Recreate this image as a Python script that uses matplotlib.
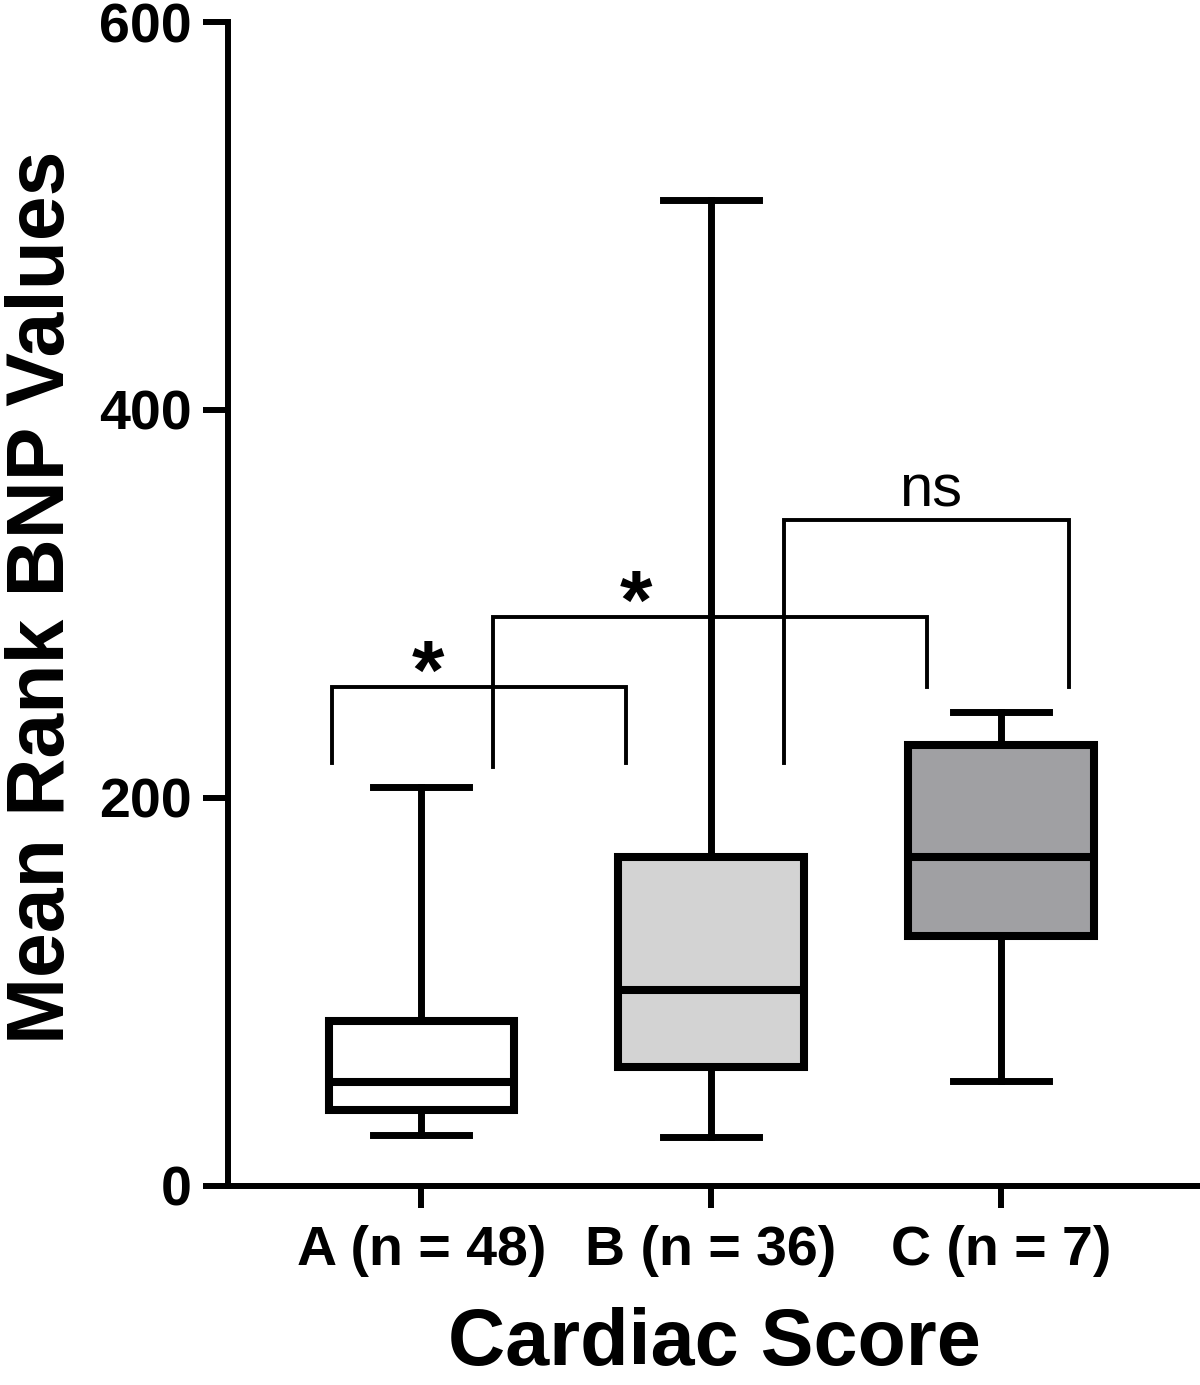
import matplotlib
matplotlib.use('Agg')
import matplotlib.pyplot as plt

plt.rcParams['font.family'] = ['Liberation Sans', 'DejaVu Sans']

# box statistics
groups = ['A (n = 48)', 'B (n = 36)', 'C (n = 7)']
whislo = [26, 25, 54]
q1 = [39, 61, 129]
med = [53.5, 101, 169.5]
q3 = [85, 169.5, 227]
whishi = [205.5, 508, 244]
fills = ['white', '#d3d3d3', '#a0a0a3']

# significance brackets: left x, right x, top y, left leg bottom, right leg bottom
br_x1 = [0.693, 1.249, 2.250]
br_x2 = [1.708, 2.744, 3.235]
br_top = [257, 293, 343]
br_lo1 = [218, 216, 218]
br_lo2 = [218, 257, 257]
sig_text = ['*', '*', 'ns']
sig_x = [1.024, 1.739, 2.758]
sig_y = [251, 287, 350]

fig = plt.figure(figsize=(12, 13.85), dpi=100)
ax = fig.add_axes([0.19, 0.1439, 0.81, 0.8402])

stats = []
for i in range(len(groups)):
    stats.append(dict(label=groups[i], whislo=whislo[i], q1=q1[i], med=med[i],
                      q3=q3[i], whishi=whishi[i]))

positions = [1, 2, 3]
bp = ax.bxp(stats, positions=positions, widths=0.64, capwidths=0.33,
            showfliers=False, patch_artist=True,
            boxprops=dict(linewidth=5.8, edgecolor='black'),
            whiskerprops=dict(linewidth=5, color='black'),
            capprops=dict(linewidth=5, color='black'),
            medianprops=dict(linewidth=5.8, color='black'))
for patch, c in zip(bp['boxes'], fills):
    patch.set_facecolor(c)

# brackets
for i in range(len(br_x1)):
    ax.plot([br_x1[i], br_x1[i], br_x2[i], br_x2[i]],
            [br_lo1[i], br_top[i], br_top[i], br_lo2[i]],
            color='black', linewidth=2.8, solid_joinstyle='miter', zorder=3)
for t, x, y in zip(sig_text, sig_x, sig_y):
    if t == '*':
        ax.text(x, y, t, ha='center', va='baseline', fontsize=60, fontweight='bold')
    else:
        ax.text(x, y, t, ha='center', va='baseline', fontsize=43)

ax.set_xlim(0.333, 3.687)
ax.set_ylim(0, 600)
ax.set_yticks([0, 200, 400, 600])
ax.set_xticks(positions)
ax.set_xticklabels(groups)

for s in ['top', 'right']:
    ax.spines[s].set_visible(False)
for s in ['left', 'bottom']:
    ax.spines[s].set_linewidth(4.3)
ax.spines['left'].set_capstyle('projecting')

ax.tick_params(axis='y', length=18, width=4.3, pad=8, labelsize=40)
ax.tick_params(axis='x', length=16, width=4.3, pad=12, labelsize=40)
for lab in ax.get_xticklabels() + ax.get_yticklabels():
    lab.set_fontweight('bold')

ax.set_ylabel('Mean Rank BNP Values', fontsize=58, fontweight='bold')
ax.yaxis.label.set_va('center')
ax.yaxis.set_label_coords(-0.19, 0.506)
ax.set_xlabel('Cardiac Score', fontsize=57, fontweight='bold')
ax.xaxis.set_label_coords(0.5, -0.104)

fig.savefig('out.png', dpi=100)
